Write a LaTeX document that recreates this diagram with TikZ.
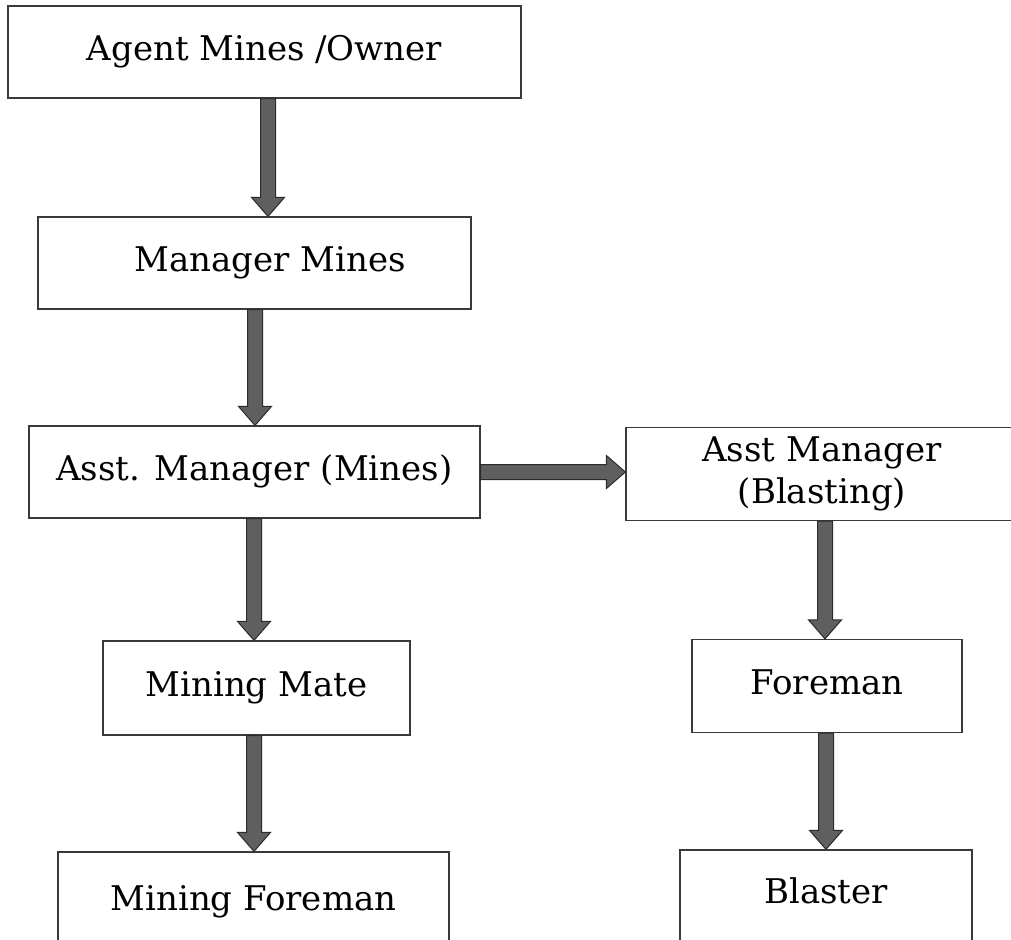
\documentclass[tikz,border=0pt]{standalone}
\usepackage{fontspec}
\setmainfont{DejaVu Serif}
\usetikzlibrary{calc}
\definecolor{arrowfill}{HTML}{5F5F5F}
\definecolor{arrowline}{HTML}{2B2B2B}
\definecolor{boxline}{HTML}{3A3A3A}
\tikzset{
  orgbox/.style={draw=boxline, line width=1.2pt, fill=white, inner sep=0pt,
    font=\fontsize{34}{42}\selectfont},
  onebase/.style={text height=25pt, text depth=8pt},
  blockarrow/.style={draw=arrowline, fill=arrowfill, line width=1pt, line join=miter}
}
\newcommand\darrow[3]{%
  \coordinate (ax) at (#3,0);
  \draw[blockarrow] ($(#1.south -| ax)+(-7.5,0)$) -- ($(#2.north -| ax)+(-7.5,-19)$)
    -- ($(#2.north -| ax)+(-16.5,-19)$) -- (#2.north -| ax)
    -- ($(#2.north -| ax)+(16.5,-19)$) -- ($(#2.north -| ax)+(7.5,-19)$)
    -- ($(#1.south -| ax)+(7.5,0)$) -- cycle;}
\newcommand\harrow[3]{%
  \coordinate (ay) at (0,#3);
  \draw[blockarrow] ($(#1.east |- ay)+(0,-7.5)$) -- ($(#2.west |- ay)+(-19,-7.5)$)
    -- ($(#2.west |- ay)+(-19,-16.5)$) -- (#2.west |- ay)
    -- ($(#2.west |- ay)+(-19,16.5)$) -- ($(#2.west |- ay)+(-19,7.5)$)
    -- ($(#1.east |- ay)+(0,7.5)$) -- cycle;}
\begin{document}
\begin{tikzpicture}[x=1pt, y=-1pt]
\useasboundingbox (0,0) rectangle (1011,939);
\clip (0,0) rectangle (1011,939);
\node[orgbox, onebase, minimum width=513pt, minimum height=92pt] (agent) at (264.5,52) {Agent Mines /Owner};
\node[orgbox, onebase, minimum width=433pt, minimum height=92pt] (mgr) at (254.5,263) {\hspace*{31pt}Manager Mines};
\node[orgbox, onebase, minimum width=451pt, minimum height=92pt] (asstm) at (254.5,472) {Asst. Manager (Mines)};
\node[orgbox, align=center, minimum width=392pt, minimum height=93pt] (asstb) at (822,474) {Asst Manager\\(Blasting)};
\node[orgbox, onebase, minimum width=307pt, minimum height=94pt] (mate) at (256.5,688) {Mining Mate};
\node[orgbox, onebase, minimum width=270pt, minimum height=93pt] (fore) at (827,686) {Foreman};
\node[orgbox, text height=25pt, text depth=30pt, minimum width=391pt, minimum height=121pt] (mfore) at (253.5,912.5) {Mining Foreman};
\node[orgbox, text height=25pt, text depth=30pt, minimum width=292pt, minimum height=111pt] (blaster) at (826,905.5) {Blaster};
\darrow{agent}{mgr}{268}
\darrow{mgr}{asstm}{255}
\darrow{asstm}{mate}{254}
\darrow{mate}{mfore}{254}
\darrow{asstb}{fore}{825}
\darrow{fore}{blaster}{826}
\harrow{asstm}{asstb}{472}
\end{tikzpicture}
\end{document}
